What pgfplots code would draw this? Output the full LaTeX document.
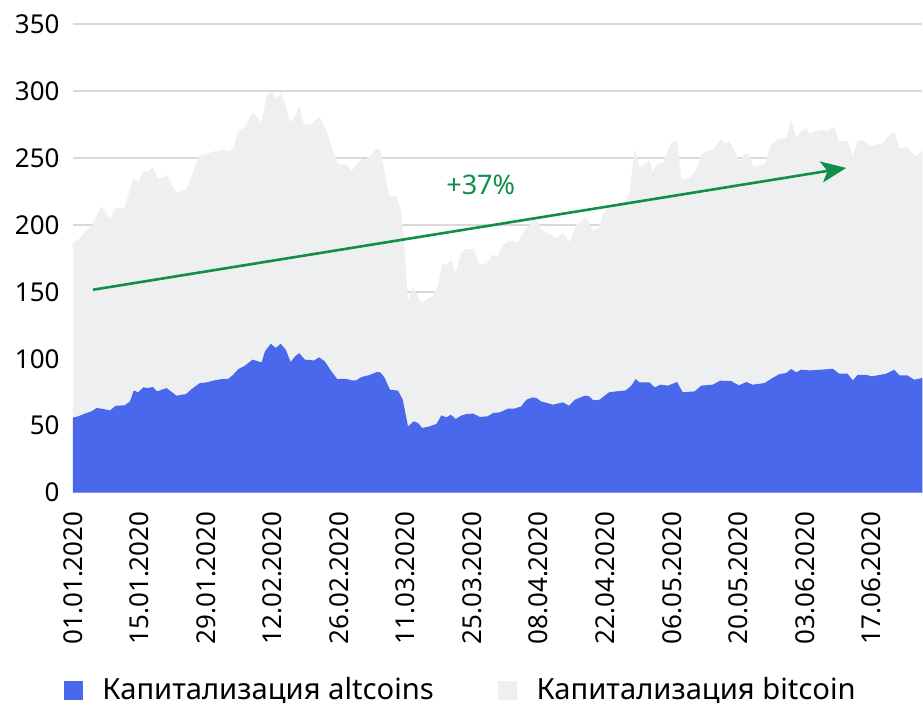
\documentclass[border=0pt]{standalone}
\usepackage{fontspec}
\setmainfont{Noto Sans}
\usepackage{pgfplots}
\pgfplotsset{compat=1.18}
\usetikzlibrary{arrows.meta}
\definecolor{alt}{RGB}{74,104,235}
\definecolor{btc}{RGB}{238,239,241}
\definecolor{gridc}{RGB}{217,217,217}
\definecolor{arr}{RGB}{16,143,72}
\begin{document}
\begin{tikzpicture}
\begin{axis}[
  name=ax,
  scale only axis,
  width=425pt, height=234.5pt,
  xmin=0, xmax=178.7, ymin=0, ymax=350,
  axis line style={draw=none},
  tick style={draw=none},
  major tick length=0pt,
  ymajorgrids, grid style={gridc, line width=0.75pt},
  ytick={0,50,...,350},
  xtick={0,14,...,168},
  xticklabels={01.01.2020,15.01.2020,29.01.2020,12.02.2020,26.02.2020,11.03.2020,25.03.2020,08.04.2020,22.04.2020,06.05.2020,20.05.2020,03.06.2020,17.06.2020},
  /pgf/number format/assume math mode=true,
  ticklabel style={font=\fontsize{13pt}{15pt}\selectfont, text=black},
  yticklabel style={anchor=east, inner sep=0pt, xshift=-6.5pt},
  xticklabel style={rotate=90, anchor=east, inner sep=0pt, xshift=-9.3pt},
  clip=false,
  legend style={at={(0.4576,-0.422)}, anchor=center, draw=none, fill=none,
    font=\fontsize{14.6pt}{16pt}\selectfont, legend columns=2,
    /tikz/every even column/.append style={column sep=30pt}},
  legend cell align=left,
]
\addplot[fill=btc, draw=none, forget plot] table {
0 186
1.5 190
2.5 195
3.9 199
6.0 214
7.8 204
8.8 212
10.9 213
12.7 235
13.7 232
14.8 240
15.8 240
16.8 243
17.9 234
19.7 237
21.8 224
23.8 226
26.7 252
28.1 253
29.9 255
30.6 255
31.6 256
32.7 255
33.7 257
34.8 270
36.2 273
37.8 284
38.6 281
39.7 276
40.7 296
41.8 300
42.8 294
43.7 298
44.6 291
45.8 276
47.7 288
48.6 275
50.2 275
51.8 281
53.3 271
54.6 256
55.8 245
57.7 245
58.6 240
60.3 248
62.1 250
64.0 257
64.7 256
66.5 222
68.1 221
69.1 210
69.8 181
70.5 144
71.7 153
73.3 141
74.4 144
75.8 147
76.8 155
77.7 171
78.6 170
79.6 174
80.5 164
81.7 179
82.8 182
84.3 182
85.6 170
87.0 171
88.4 178
89.2 176
90.5 185
91.7 188
93.6 187
95.0 195
96.8 204
97.8 202
98.5 197
99.9 194
101.7 190
103.1 194
104.5 187
105.9 200
107.7 205
108.3 204
109.4 196
110.5 197
111.5 207
112.2 212
115.0 215
116.4 218
117.1 224
117.5 236
118.2 257
119.2 243
120.3 245
121.3 248
122.0 240
123.1 246
124.1 246
125.9 261
127.1 263
128.0 234
129.8 235
131.1 241
132.2 252
133.2 255
134.6 256
136.4 264
137.3 260
138.1 263
139.2 255
140.2 247
141.3 253
142.2 253
143.2 243
144.4 245
145.5 245
146.9 260
148.3 264
150.1 265
151.1 278
152.2 265
153.2 270
154.3 272
155.0 268
156.4 270
157.8 271
158.6 270
160.2 273
161.1 262
163.0 263
164.1 251
165.1 263
166.2 263
167.9 259
170.4 261
171.8 267
172.8 270
173.9 257
175.6 258
177.2 251
178.7 255
} \closedcycle;
\addplot[fill=alt, draw=none, forget plot] table {
0 56
1.1 57
2.5 59
3.9 60.7
5.0 63.2
6.0 62.7
7.8 61.4
9.0 64.9
10.9 65.2
12.0 68.1
12.8 76.3
13.7 74.9
14.8 78.6
15.8 78.1
16.8 78.9
17.7 75.6
19.7 78.1
21.8 72.4
23.8 73.6
25.0 77.4
26.7 81.8
28.1 82.3
29.5 83.6
31.6 85
32.7 85
33.7 88
34.8 92.3
36.2 94.8
37.8 99.3
39.7 97.2
40.4 105.5
41.6 111.2
42.7 108
43.7 111.2
44.8 106.7
45.8 97.5
46.7 101.7
47.6 104.2
48.8 99.3
50.7 98.7
51.8 101
53.0 98
54.4 90.5
55.6 84.8
57.5 85
58.6 83.8
59.6 83.8
60.7 86.3
62.4 87.8
63.9 90
64.7 89.8
65.6 85.6
66.7 76.9
68.4 76.1
69.4 69.4
70.5 49.5
71.7 53.2
72.6 52
73.5 48.3
75.1 49.5
76.5 51.3
77.5 57.7
78.6 56.2
79.5 58.2
80.5 55
81.7 57.5
82.8 58.7
84.2 59
85.6 56.5
87.3 57
88.4 59.5
89.8 59.9
91.5 62.7
92.9 62.7
94.3 64.4
95.4 69.4
96.7 71.1
97.5 70.7
98.5 68.1
101.0 65.7
103.1 67.4
104.4 64.9
105.6 69.4
107.7 72.4
108.6 71.9
109.5 68.9
110.8 69.4
112.8 74.9
114.3 75.6
116.3 76.3
117.5 79.9
118.4 84.8
119.2 82.3
121.3 82.3
122.4 78.6
123.6 80.6
125.2 79.9
127.1 82.6
128.3 74.9
130.8 75.6
132.2 79.9
134.6 80.6
136.2 83.6
138.5 83.3
140.1 80.1
141.7 82.6
143.0 80.6
145.5 81.8
147.2 85.6
148.7 88.6
150.1 89.3
151.1 92.3
152.2 89.8
153.2 91.8
155.0 91.3
157.4 91.8
159.9 92.5
161.2 88.8
163.0 88.8
164.1 83.8
165.1 88
166.9 88
168.1 86.8
171.1 88.8
172.8 91.8
173.9 87.5
175.6 87.5
177.0 84.3
178.7 85.6
} \closedcycle;
\addlegendimage{legend image code/.code={\fill[alt] (0pt,-4.5pt) rectangle (9pt,4.5pt); \path (17pt,0pt);}}
\addlegendentry{Капитализация altcoins}
\addlegendimage{legend image code/.code={\fill[btc] (0pt,-4.5pt) rectangle (9pt,4.5pt); \path (17pt,0pt);}}
\addlegendentry{Капитализация bitcoin}
\draw[arr, line width=1.3pt, -{Stealth[length=12.5pt, width=10.5pt, inset=3pt]}]
  (axis cs:4.2,151.5) -- (axis cs:162.7,242.5);
\node[text=arr, font=\fontsize{13.5pt}{15pt}\selectfont] at (axis cs:85.8,229.9) {+37\%};
\end{axis}
\path ([xshift=-36.5pt,yshift=-106pt]ax.south west) rectangle ([yshift=12pt]ax.north east);
\end{tikzpicture}
\end{document}
